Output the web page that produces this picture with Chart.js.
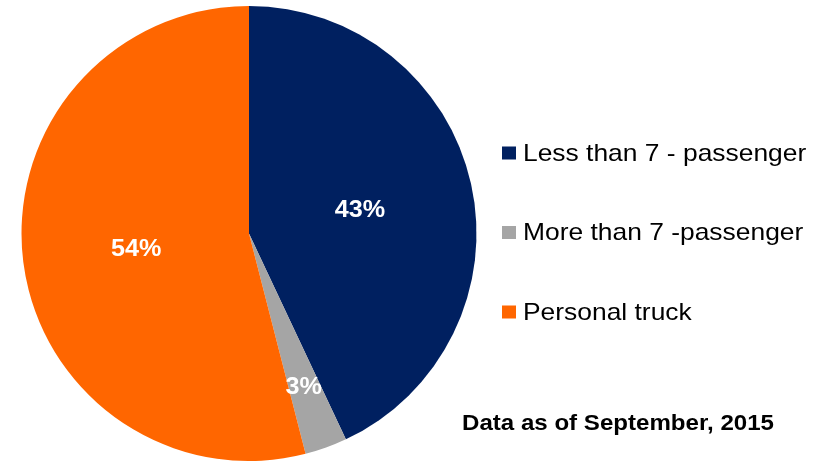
<!DOCTYPE html>
<html>
<head>
<meta charset="utf-8">
<script src="https://cdn.jsdelivr.net/npm/chart.js@4"></script>
<style>
  html, body { margin: 0; padding: 0; background: #fff; }
  #wrap { width: 819px; height: 461px; position: relative; }
</style>
</head>
<body>
<div id="wrap"><canvas id="pieChart" width="819" height="461"></canvas></div>
<script>
// Vehicle type share
const categories = ["Less than 7 - passenger", "More than 7 -passenger", "Personal truck"];
const shares = [43, 3, 54];
const sliceColors = ["#002060", "#A5A5A5", "#FF6600"];
const footnote = "Data as of September, 2015";

// how far out from the centre each percent label sits (fraction of radius)
const labelRadius = [0.5, 0.71, 0.5];

const FONT = "'Liberation Sans', Arial, sans-serif";

// draw text stretched horizontally around its anchor
function wideText(ctx, text, x, y, stretch) {
  ctx.save();
  ctx.translate(x, y);
  ctx.scale(stretch, 1);
  ctx.fillText(text, 0, 0);
  ctx.restore();
}

// Percent labels inside the slices
const sliceLabels = {
  id: "sliceLabels",
  afterDatasetsDraw(chart) {
    const ctx = chart.ctx;
    const meta = chart.getDatasetMeta(0);
    ctx.save();
    ctx.fillStyle = "#fff";
    ctx.font = "bold 24px " + FONT;
    ctx.textAlign = "center";
    ctx.textBaseline = "middle";
    meta.data.forEach((arc, i) => {
      const mid = (arc.startAngle + arc.endAngle) / 2;
      const r = arc.outerRadius * labelRadius[i];
      wideText(ctx, shares[i] + "%", arc.x + Math.cos(mid) * r, arc.y + Math.sin(mid) * r + 2, 1.05);
    });
    ctx.restore();
  }
};

// Legend on the right plus the footnote
const sideLegend = {
  id: "sideLegend",
  afterDraw(chart) {
    const ctx = chart.ctx;
    ctx.save();
    ctx.font = "24px " + FONT;
    ctx.textBaseline = "middle";
    categories.forEach((name, i) => {
      const y = 153 + i * 79.5;
      ctx.fillStyle = sliceColors[i];
      ctx.fillRect(502, y - 6.5, 14, 13);
      ctx.fillStyle = "#000";
      wideText(ctx, name, 523, y + 1, 1.1);
    });
    ctx.font = "bold 22px " + FONT;
    wideText(ctx, footnote, 462, 424, 1.095);
    ctx.restore();
  }
};

new Chart(document.getElementById("pieChart"), {
  type: "pie",
  data: {
    labels: categories,
    datasets: [{
      data: shares,
      backgroundColor: sliceColors,
      borderWidth: 0
    }]
  },
  options: {
    responsive: false,
    animation: false,
    layout: { padding: { left: 21, right: 342, top: 6, bottom: 0 } },
    plugins: {
      legend: { display: false },
      tooltip: { enabled: false }
    }
  },
  plugins: [sliceLabels, sideLegend]
});
</script>
</body>
</html>
